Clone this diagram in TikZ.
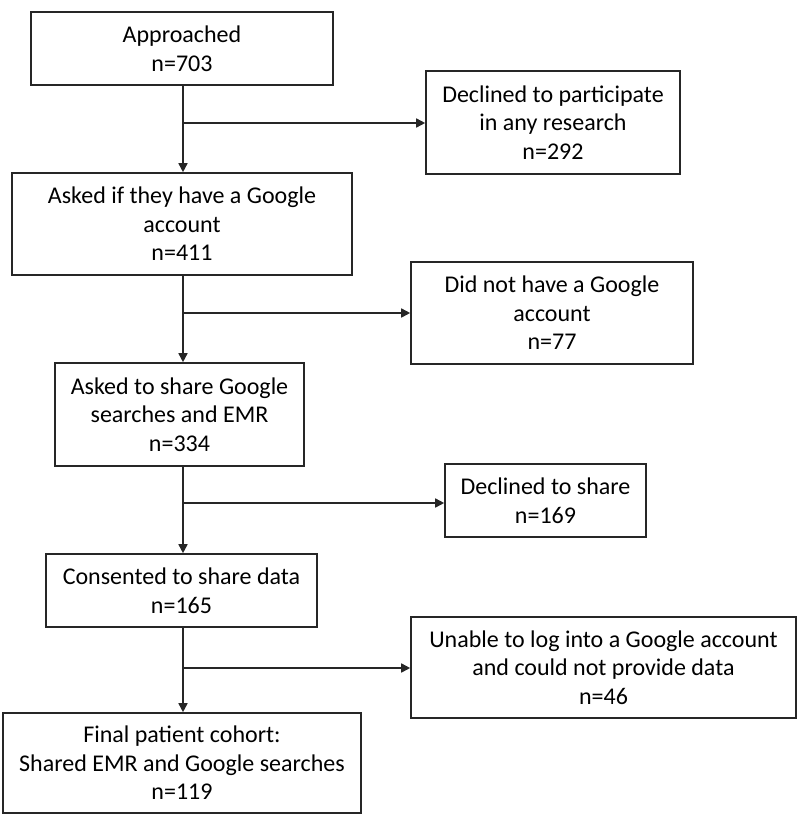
\documentclass[tikz,border=0pt]{standalone}
\usepackage{fontspec}
\setmainfont{Carlito}
\usetikzlibrary{arrows.meta}
\begin{document}
\begin{tikzpicture}[x=1pt,y=-1pt,
  box/.style={draw=black!85,line width=1.6pt,inner sep=0pt,align=center,
    font=\fontsize{24}{28.5}\selectfont},
  arr/.style={line width=1.6pt,draw=black!85,-{Triangle[length=9pt,width=9pt]}},
  ln/.style={line width=1.6pt,draw=black!85}]
\useasboundingbox (0,0) rectangle (801,814);
\node[box,minimum width=302pt,minimum height=73pt] (A) at (182,48.5) {Approached\\n=703};
\node[box,minimum width=340pt,minimum height=102pt] (B) at (182,224) {Asked if they have a Google\\account\\n=411};
\node[box,minimum width=249pt,minimum height=103pt] (C) at (179.5,414.5) {Asked to share Google\\searches and EMR\\n=334};
\node[box,minimum width=271pt,minimum height=73pt] (D) at (181.5,590.5) {Consented to share data\\n=165};
\node[box,minimum width=358pt,minimum height=100pt] (E) at (182,763) {Final patient cohort:\\Shared EMR and Google searches\\n=119};
\node[box,minimum width=254pt,minimum height=103pt] (R1) at (553,122.5) {Declined to participate\\in any research\\n=292};
\node[box,minimum width=282pt,minimum height=102pt] (R2) at (552,313) {Did not have a Google\\account\\n=77};
\node[box,minimum width=201pt,minimum height=73pt] (R3) at (545.5,500.5) {Declined to share\\n=169};
\node[box,minimum width=385pt,minimum height=101pt] (R4) at (603.5,667.5) {Unable to log into a Google account\\and could not provide data\\n=46};
\coordinate (b1) at (183,123);
\coordinate (b2) at (183,313);
\coordinate (b3) at (183,503);
\coordinate (b4) at (183,668);
\draw[arr] (A.south -| b1) -- (B.north -| b1);
\draw[arr] (B.south -| b2) -- (C.north -| b2);
\draw[arr] (C.south -| b3) -- (D.north -| b3);
\draw[arr] (D.south -| b4) -- (E.north -| b4);
\draw[arr] (b1) -- (R1.west |- b1);
\draw[arr] (b2) -- (R2.west |- b2);
\draw[arr] (b3) -- (R3.west |- b3);
\draw[arr] (b4) -- (R4.west |- b4);
\end{tikzpicture}
\end{document}
